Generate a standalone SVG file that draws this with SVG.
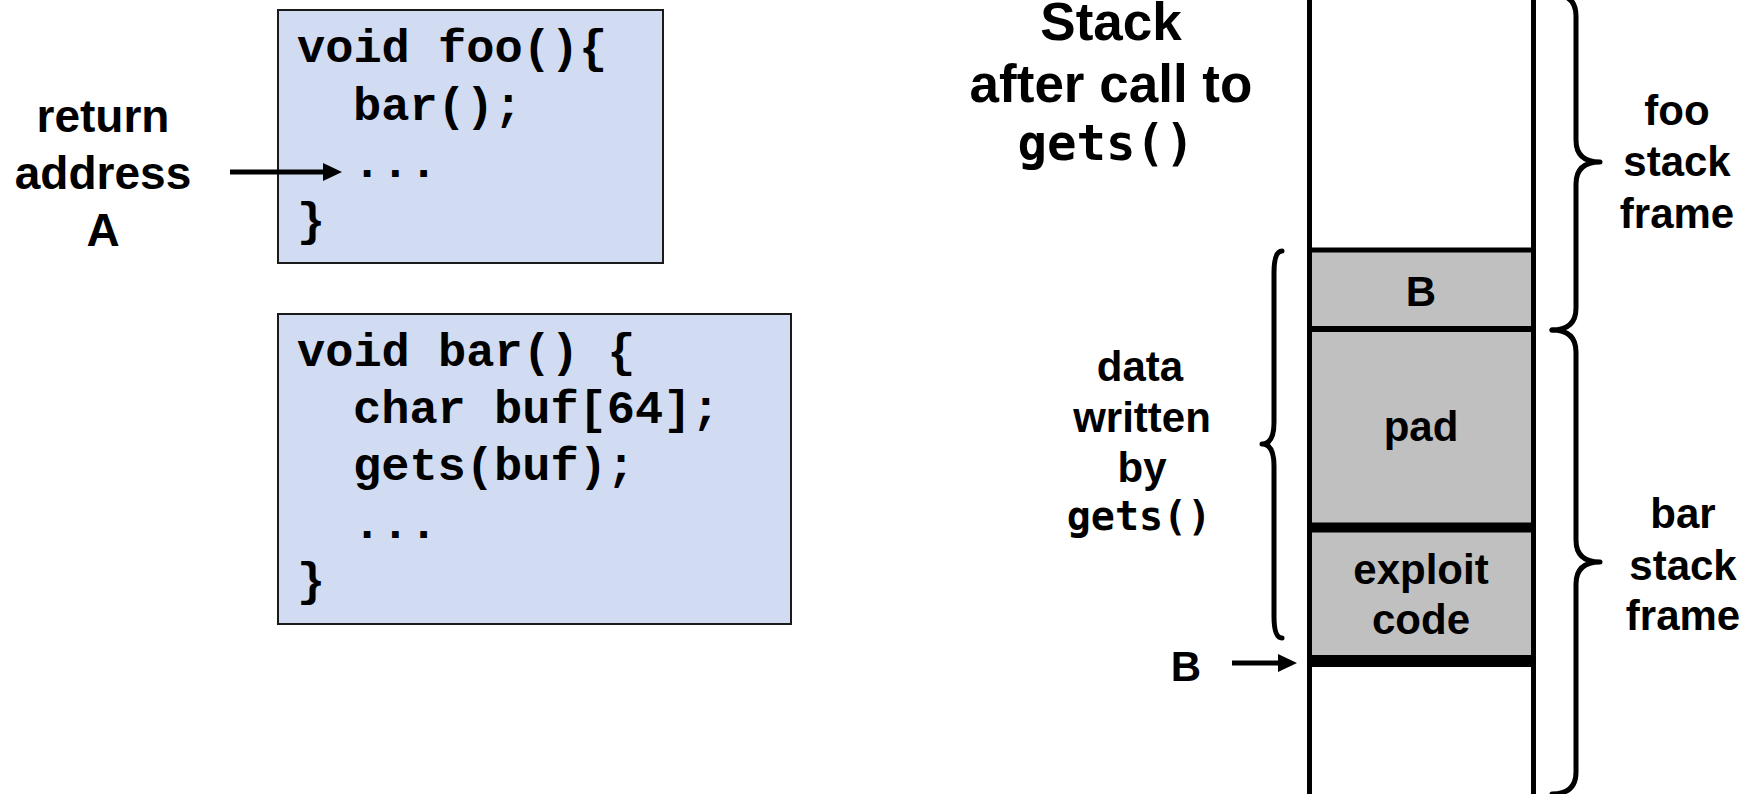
<svg xmlns="http://www.w3.org/2000/svg" width="1752" height="794" viewBox="0 0 1752 794">
  <defs>
    <style>
      .code { font-family: "Liberation Mono", "Courier New", monospace; font-weight: bold; font-size: 47px; fill: #000; }
      .lbl { font-family: "Liberation Sans", Arial, sans-serif; font-weight: bold; fill: #000; text-anchor: middle; }
      .mono { font-family: "DejaVu Sans Mono", "Liberation Mono", monospace; font-weight: bold; fill: #000; }
      .box { fill: #D1DCF2; stroke: #1a1a1a; stroke-width: 2; }
      .cell { fill: #C0C0C0; }
      .wall { stroke: #000; stroke-width: 5; fill: none; }
      .brace { stroke: #000; stroke-width: 5; fill: none; stroke-linecap: round; stroke-linejoin: round; }
      .arrow { stroke: #000; stroke-width: 5; fill: none; }
    </style>
    <marker id="head" markerUnits="userSpaceOnUse" markerWidth="20" markerHeight="18" refX="0" refY="9" orient="auto">
      <path d="M0,0 L19,9 L0,18 z" fill="#000"/>
    </marker>
  </defs>

  <rect width="1752" height="794" fill="#fff"/>

  <!-- foo() source -->
  <g id="foo-code">
    <rect class="box" x="278" y="10" width="385" height="253"/>
    <text class="code" x="297" y="62">void foo(){</text>
    <text class="code" x="353" y="120">bar();</text>
    <text class="code" x="353" y="177">...</text>
    <text class="code" x="297" y="235">}</text>
  </g>

  <!-- bar() source -->
  <g id="bar-code">
    <rect class="box" x="278" y="314" width="513" height="310"/>
    <text class="code" x="297" y="366">void bar() {</text>
    <text class="code" x="353" y="423">char buf[64];</text>
    <text class="code" x="353" y="480">gets(buf);</text>
    <text class="code" x="353" y="538">...</text>
    <text class="code" x="297" y="595">}</text>
  </g>

  <!-- return address label -->
  <g id="return-address">
    <text class="lbl" font-size="46" x="103" y="132">return</text>
    <text class="lbl" font-size="46" x="103" y="189">address</text>
    <text class="lbl" font-size="46" x="103" y="246">A</text>
  </g>

  <!-- title -->
  <g id="title">
    <text class="lbl" font-size="53" x="1111" y="40">Stack</text>
    <text class="lbl" font-size="53" x="1111" y="102">after call to</text>
    <text class="mono" font-size="49" x="1106" y="160" text-anchor="middle">gets()</text>
  </g>

  <!-- stack column -->
  <g id="stack">
    <rect class="cell" x="1309.5" y="250" width="224" height="411"/>
    <line class="wall" x1="1309.5" y1="-5" x2="1309.5" y2="800"/>
    <line class="wall" x1="1533.5" y1="-5" x2="1533.5" y2="800"/>
    <line stroke="#000" stroke-width="5" x1="1307" y1="250" x2="1536" y2="250"/>
    <line stroke="#000" stroke-width="6" x1="1307" y1="329" x2="1536" y2="329"/>
    <line stroke="#000" stroke-width="10" x1="1307" y1="527.5" x2="1536" y2="527.5"/>
    <line stroke="#000" stroke-width="12" x1="1307" y1="661" x2="1536" y2="661"/>
  </g>
  <g id="cell-B">
    <text class="lbl" font-size="42" x="1421" y="306">B</text>
  </g>
  <g id="cell-pad">
    <text class="lbl" font-size="42" x="1421" y="441">pad</text>
  </g>
  <g id="cell-exploit">
    <text class="lbl" font-size="42" x="1421" y="584">exploit</text>
    <text class="lbl" font-size="42" x="1421" y="634">code</text>
  </g>

  <!-- braces -->
  <g id="foo-frame">
    <path class="brace" d="M1552,-6 Q1576,-6 1576,16 L1576,140 Q1576,162 1600,162 Q1576,162 1576,184 L1576,308 Q1576,330 1552,330"/>
    <text class="lbl" font-size="42" x="1677" y="125">foo</text>
    <text class="lbl" font-size="42" x="1677" y="176">stack</text>
    <text class="lbl" font-size="42" x="1677" y="228">frame</text>
  </g>
  <g id="bar-frame">
    <path class="brace" d="M1552,330 Q1576,330 1576,352 L1576,540 Q1576,562 1600,562 Q1576,562 1576,584 L1576,772 Q1576,794 1552,794"/>
    <text class="lbl" font-size="42" x="1683" y="528">bar</text>
    <text class="lbl" font-size="42" x="1683" y="580">stack</text>
    <text class="lbl" font-size="42" x="1683" y="630">frame</text>
  </g>
  <g id="gets-data">
    <path class="brace" d="M1282,251 Q1274,251 1274,273 L1274,422 Q1274,444 1262,444 Q1274,444 1274,466 L1274,616 Q1274,638 1282,638"/>
    <text class="lbl" font-size="42" x="1140" y="381">data</text>
    <text class="lbl" font-size="42" x="1142" y="432">written</text>
    <text class="lbl" font-size="42" x="1142" y="482">by</text>
    <text class="mono" font-size="40" x="1139" y="530" text-anchor="middle">gets()</text>
  </g>
  <g id="pointer-B">
    <text class="lbl" font-size="42" x="1186" y="681">B</text>
  </g>

  <!-- connectors -->
  <g id="connectors">
    <line class="arrow" x1="230" y1="172" x2="323" y2="172" marker-end="url(#head)"/>
    <line class="arrow" x1="1232" y1="663" x2="1278" y2="663" marker-end="url(#head)"/>
  </g>
</svg>
